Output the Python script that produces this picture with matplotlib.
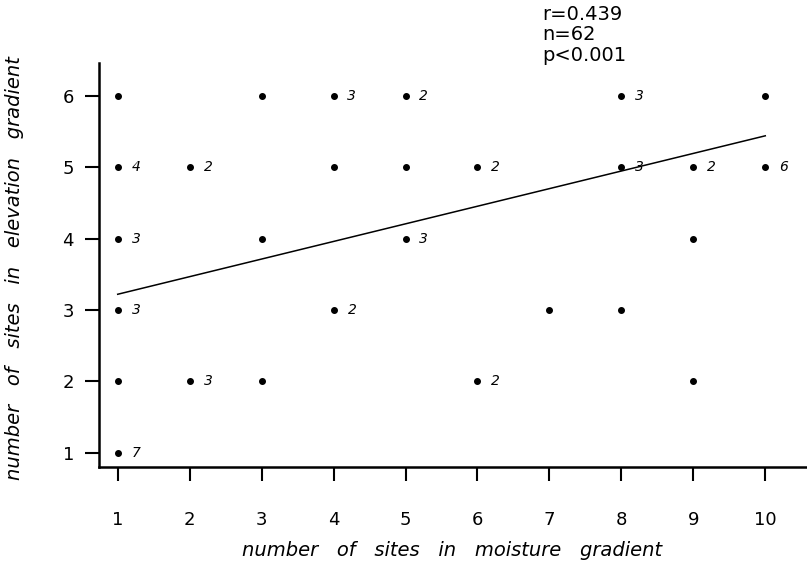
import matplotlib.pyplot as plt
import numpy as np

# sites in moisture gradient (x), sites in elevation gradient (y), number of cases at each point
moisture = [1, 1, 1, 1, 1, 1, 2, 2, 3, 3, 3, 4, 4, 4, 5, 5, 5, 6, 6, 7, 8, 8, 8, 9, 9, 9, 10, 10]
elevation = [6, 5, 4, 3, 2, 1, 5, 2, 6, 4, 2, 6, 5, 3, 6, 5, 4, 5, 2, 3, 6, 5, 3, 5, 4, 2, 6, 5]
counts = [1, 4, 3, 3, 1, 7, 2, 3, 1, 1, 1, 3, 1, 2, 2, 1, 3, 2, 2, 1, 3, 3, 1, 2, 1, 1, 1, 6]

# fitted line
line_x = [1, 10]
line_y = [3.22, 5.44]

stats_text = 'r=0.439\nn=62\np<0.001'

fig = plt.figure(figsize=(8.07, 5.72), dpi=100)
ax = fig.add_axes([99 / 807, 1 - 467 / 572, (807 - 99) / 807, (467 - 63) / 572])

ax.plot(moisture, elevation, 'o', color='black', markersize=4)
for x, y, c in zip(moisture, elevation, counts):
    if c > 1:
        ax.annotate(str(c), (x, y), xytext=(10, 0), textcoords='offset points',
                    ha='left', va='center', fontsize=10, style='italic')

ax.plot(line_x, line_y, color='black', linewidth=1.1)

ax.set_xlim(0.74, 10.58)
ax.set_ylim(0.8, 6.46)
ax.set_xticks(range(1, 11))
ax.set_yticks(range(1, 7))
ax.tick_params(direction='out', length=10, width=1.5, labelsize=13)
ax.tick_params(axis='x', pad=22)
ax.tick_params(axis='y', pad=8)

for s in ['top', 'right']:
    ax.spines[s].set_visible(False)
ax.spines['left'].set_linewidth(1.8)
ax.spines['bottom'].set_linewidth(1.8)

fig.text(452 / 807, 1 - 550 / 572, 'number   of   sites   in   moisture   gradient',
         fontsize=14, style='italic', ha='center', va='center')
fig.text(15 / 807, 1 - 268 / 572, 'number   of   sites   in   elevation   gradient',
         fontsize=14, style='italic', rotation=90, ha='center', va='center')

fig.text(542 / 807, 1 - 5 / 572, stats_text, fontsize=14, va='top', ha='left',
         linespacing=1.1)

plt.savefig('out.png', dpi=100)
